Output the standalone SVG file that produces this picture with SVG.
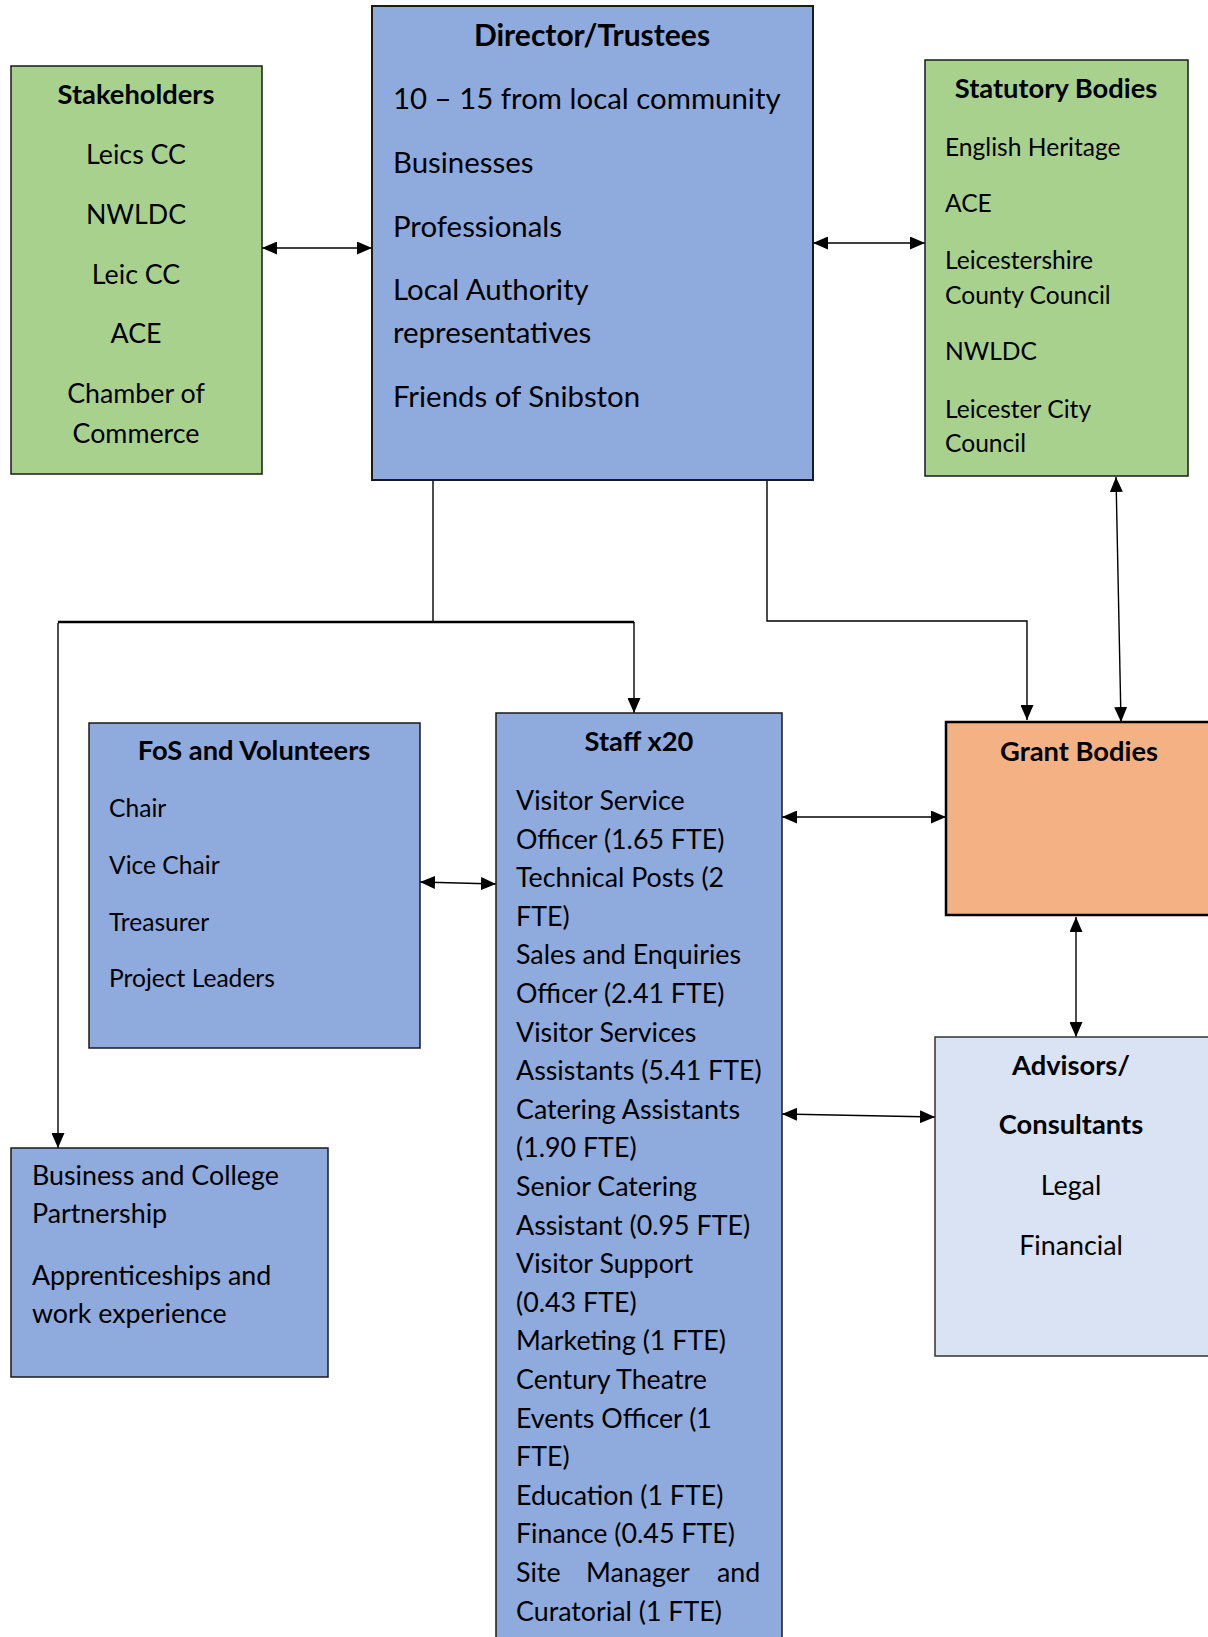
<svg xmlns="http://www.w3.org/2000/svg" width="1208" height="1637" viewBox="0 0 1208 1637">
<style>
  .box { stroke:#1a1a1a; stroke-width:1.5; }
  .green { fill:#A9D18E; }
  .blue { fill:#8FAADC; }
  .orange { fill:#F4B183; stroke:#000; stroke-width:2.5; }
  .light { fill:#DAE3F3; stroke:#333; }
  text { font-family: Lato, "Open Sans", "Liberation Sans", sans-serif; fill:#000; }
  .b { font-weight:bold; }
  .c { text-anchor:middle; }
  .f32 { font-size:29.4px; }
  .f29 { font-size:26.8px; }
  .tb { font-size:27.3px; }
  .tbd { font-size:30px; }
  .f27 { font-size:24.6px; }
  .ln { fill:none; stroke:#000; stroke-width:1.4; }
</style>
<defs>
  <marker id="ah" viewBox="0 0 15 13" refX="15" refY="6.5" markerWidth="15" markerHeight="13" markerUnits="userSpaceOnUse" orient="auto-start-reverse">
    <path d="M0,0 L15,6.5 L0,13 Z" fill="#000"/>
  </marker>
</defs>

<g id="connectors">
  <line class="ln" x1="262" y1="248" x2="372" y2="248" marker-start="url(#ah)" marker-end="url(#ah)"/>
  <line class="ln" x1="813" y1="243" x2="925" y2="243" marker-start="url(#ah)" marker-end="url(#ah)"/>
  <line class="ln" x1="1116" y1="477" x2="1121" y2="722" marker-start="url(#ah)" marker-end="url(#ah)"/>
  <path class="ln" d="M433,480 V622"/>
  <path class="ln" d="M58,622 H634" style="stroke-width:2.4"/>
  <path class="ln" d="M634,622 V713" marker-end="url(#ah)"/>
  <path class="ln" d="M58,623 V1148" marker-end="url(#ah)"/>
  <path class="ln" d="M767,480 V621 H1027 V720" marker-end="url(#ah)"/>
  <line class="ln" x1="420" y1="882" x2="496" y2="884" marker-start="url(#ah)" marker-end="url(#ah)"/>
  <line class="ln" x1="782" y1="817" x2="946" y2="817" marker-start="url(#ah)" marker-end="url(#ah)"/>
  <line class="ln" x1="1076" y1="917" x2="1076" y2="1037" marker-start="url(#ah)" marker-end="url(#ah)"/>
  <line class="ln" x1="782" y1="1114" x2="935" y2="1117" marker-start="url(#ah)" marker-end="url(#ah)"/>
</g>

<g id="stakeholders">
  <rect class="box green" x="11" y="66" width="251" height="408"/>
  <text class="b c tb" x="136" y="104">Stakeholders</text>
  <text class="c f29" x="136" y="164">Leics CC</text>
  <text class="c f29" x="136" y="224">NWLDC</text>
  <text class="c f29" x="136" y="284">Leic CC</text>
  <text class="c f29" x="136" y="343">ACE</text>
  <text class="c f29" x="136" y="403">Chamber of</text>
  <text class="c f29" x="136" y="443">Commerce</text>
</g>

<g id="director">
  <rect class="box blue" x="372" y="6" width="441" height="474" style="stroke-width:2"/>
  <text class="b c tbd" x="592" y="46">Director/Trustees</text>
  <text class="f32" x="393" y="109">10 – 15 from local community</text>
  <text class="f32" x="393" y="173">Businesses</text>
  <text class="f32" x="393" y="237">Professionals</text>
  <text class="f32" x="393" y="300">Local Authority</text>
  <text class="f32" x="393" y="343">representatives</text>
  <text class="f32" x="393" y="407">Friends of Snibston</text>
</g>

<g id="statutory">
  <rect class="box green" x="925" y="60" width="263" height="416"/>
  <text class="b c tb" x="1056" y="98">Statutory Bodies</text>
  <text class="f27" x="945" y="156">English Heritage</text>
  <text class="f27" x="945" y="212">ACE</text>
  <text class="f27" x="945" y="269">Leicestershire</text>
  <text class="f27" x="945" y="304">County Council</text>
  <text class="f27" x="945" y="360">NWLDC</text>
  <text class="f27" x="945" y="418">Leicester City</text>
  <text class="f27" x="945" y="452">Council</text>
</g>

<g id="fos">
  <rect class="box blue" x="89" y="723" width="331" height="325"/>
  <text class="b c tb" x="254" y="760">FoS and Volunteers</text>
  <text class="f27" x="109" y="817">Chair</text>
  <text class="f27" x="109" y="874">Vice Chair</text>
  <text class="f27" x="109" y="931">Treasurer</text>
  <text class="f27" x="109" y="987">Project Leaders</text>
</g>

<g id="staff">
  <rect class="box blue" x="496" y="713" width="286" height="940"/>
  <text class="b c tb" x="639" y="751">Staff x20</text>
  <text class="f29" x="516" y="810">Visitor Service</text>
  <text class="f29" x="516" y="848.6">Officer (1.65 FTE)</text>
  <text class="f29" x="516" y="887.2">Technical Posts (2</text>
  <text class="f29" x="516" y="925.8">FTE)</text>
  <text class="f29" x="516" y="964.4">Sales and Enquiries</text>
  <text class="f29" x="516" y="1003">Officer (2.41 FTE)</text>
  <text class="f29" x="516" y="1041.6">Visitor Services</text>
  <text class="f29" x="516" y="1080.2">Assistants (5.41 FTE)</text>
  <text class="f29" x="516" y="1118.8">Catering Assistants</text>
  <text class="f29" x="516" y="1157.4">(1.90 FTE)</text>
  <text class="f29" x="516" y="1196">Senior Catering</text>
  <text class="f29" x="516" y="1234.6">Assistant (0.95 FTE)</text>
  <text class="f29" x="516" y="1273.2">Visitor Support</text>
  <text class="f29" x="516" y="1311.8">(0.43 FTE)</text>
  <text class="f29" x="516" y="1350.4">Marketing (1 FTE)</text>
  <text class="f29" x="516" y="1389">Century Theatre</text>
  <text class="f29" x="516" y="1427.6">Events Officer (1</text>
  <text class="f29" x="516" y="1466.2">FTE)</text>
  <text class="f29" x="516" y="1504.8">Education (1 FTE)</text>
  <text class="f29" x="516" y="1543.4">Finance (0.45 FTE)</text>
  <text class="f29" y="1582"><tspan x="516">Site</tspan><tspan x="586">Manager</tspan><tspan x="717">and</tspan></text>
  <text class="f29" x="516" y="1620.6">Curatorial (1 FTE)</text>
</g>

<g id="grant">
  <rect class="orange" x="946" y="722" width="270" height="193"/>
  <text class="b c tb" x="1079" y="761">Grant Bodies</text>
</g>

<g id="advisors">
  <rect class="box light" x="935" y="1037" width="280" height="319"/>
  <text class="b c tb" x="1071" y="1075">Advisors/</text>
  <text class="b c tb" x="1071" y="1134">Consultants</text>
  <text class="c f29" x="1071" y="1195">Legal</text>
  <text class="c f29" x="1071" y="1255">Financial</text>
</g>

<g id="business">
  <rect class="box blue" x="11" y="1148" width="317" height="229"/>
  <text class="f29" x="32" y="1185">Business and College</text>
  <text class="f29" x="32" y="1223">Partnership</text>
  <text class="f29" x="32" y="1285">Apprenticeships and</text>
  <text class="f29" x="32" y="1323">work experience</text>
</g>
</svg>
